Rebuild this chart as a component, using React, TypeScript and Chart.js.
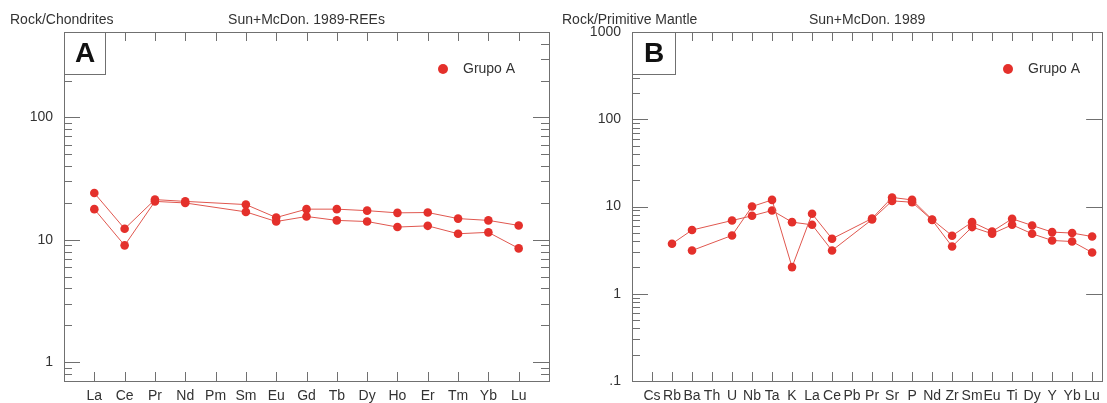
import React, { useEffect, useRef } from "react";
import { Chart, registerables } from "chart.js";

Chart.register(...registerables);

// ---------- Data ----------
const REE_LABELS = ["La", "Ce", "Pr", "Nd", "Pm", "Sm", "Eu", "Gd", "Tb", "Dy", "Ho", "Er", "Tm", "Yb", "Lu"];
const REE_SAMPLE_1 = [24.1, 12.3, 21.3, 20.6, null, 19.4, 15.2, 17.8, 17.8, 17.3, 16.6, 16.7, 14.9, 14.4, 13.1];
const REE_SAMPLE_2 = [17.8, 9.0, 20.6, 20.0, null, 16.9, 14.1, 15.5, 14.4, 14.1, 12.7, 13.0, 11.2, 11.5, 8.5];
const REE_Y_TICKS = [1, 10, 100];

const SPIDER_LABELS = ["Cs", "Rb", "Ba", "Th", "U", "Nb", "Ta", "K", "La", "Ce", "Pb", "Pr", "Sr", "P", "Nd", "Zr", "Sm", "Eu", "Ti", "Dy", "Y", "Yb", "Lu"];
const SPIDER_SAMPLE_1 = [null, null, 3.13, null, 4.66, 10.0, 11.9, 2.02, 8.25, 4.27, null, 7.3, 12.7, 11.9, 7.1, 4.62, 6.62, 5.17, 7.23, 6.06, 5.09, 4.96, 4.53];
const SPIDER_SAMPLE_2 = [null, 3.74, 5.37, null, 6.91, 7.82, 9.0, 6.62, 6.17, 3.13, null, 7.1, 11.6, 11.2, 7.0, 3.48, 5.81, 4.87, 6.17, 4.87, 4.08, 3.97, 2.97];
const SPIDER_Y_TICKS = [0.1, 1, 10, 100, 1000];

const LEGEND_LABEL = "Grupo A";

// ---------- Styles ----------
const FONT = "'Liberation Sans', Arial, sans-serif";
const TEXT_COLOR = "#333333";
const AXIS_COLOR = "#707070";
const LINE_COLOR = "#e0574f";
const POINT_COLOR = "#e4302b";

type PanelCfg = {
  letter: string;
  leftTitle: string;
  centerTitle: string;
  labels: string[];
  series: (number | null)[][];
  yTicks: number[];
  yMin: number;
  yMax: number;
  xMax: number;
  rightMinor: boolean;
  canvasWidth: number;
  yAxisWidth: number;
  padRight: number;
  leftTitleX: number;
  boxW: number;
  legendDotX: number;
};

const PANEL_A: PanelCfg = {
  letter: "A",
  leftTitle: "Rock/Chondrites",
  centerTitle: "Sun+McDon. 1989-REEs",
  labels: REE_LABELS,
  series: [REE_SAMPLE_1, REE_SAMPLE_2],
  yTicks: REE_Y_TICKS,
  yMin: 0.7,
  yMax: 500,
  xMax: 16,
  rightMinor: true,
  canvasWidth: 560,
  yAxisWidth: 64,
  padRight: 11,
  leftTitleX: 10,
  boxW: 41,
  legendDotX: 443,
};

const PANEL_B: PanelCfg = {
  letter: "B",
  leftTitle: "Rock/Primitive Mantle",
  centerTitle: "Sun+McDon. 1989",
  labels: SPIDER_LABELS,
  series: [SPIDER_SAMPLE_1, SPIDER_SAMPLE_2],
  yTicks: SPIDER_Y_TICKS,
  yMin: 0.1,
  yMax: 1000,
  xMax: 23.5,
  rightMinor: false,
  canvasWidth: 547,
  yAxisWidth: 72,
  padRight: 2,
  leftTitleX: 2,
  boxW: 43,
  legendDotX: 448,
};

const CANVAS_H = 403;
const TOP = 32;
const X_AXIS_H = 22;

function makeFramePlugin(cfg: PanelCfg) {
  return {
    id: "frame" + cfg.letter,
    afterDraw(chart: any) {
      const { ctx, chartArea: ca, scales } = chart;
      const xs = scales.x;
      const ys = scales.y;
      ctx.save();
      ctx.strokeStyle = AXIS_COLOR;
      ctx.lineWidth = 1;
      ctx.beginPath();
      // x ticks (top & bottom, inward)
      for (let i = 0; i < cfg.labels.length; i++) {
        const px = Math.round(xs.getPixelForValue(i + 1)) + 0.5;
        ctx.moveTo(px, ca.top);
        ctx.lineTo(px, ca.top + 9);
        ctx.moveTo(px, ca.bottom);
        ctx.lineTo(px, ca.bottom - 9);
      }
      // y ticks (left & right, inward)
      const e0 = Math.floor(Math.log10(cfg.yMin));
      const e1 = Math.ceil(Math.log10(cfg.yMax));
      for (let e = e0; e <= e1; e++) {
        for (let m = 1; m <= 9; m++) {
          const v = m * Math.pow(10, e);
          if (v < cfg.yMin * 0.999 || v > cfg.yMax * 1.001) continue;
          const py = Math.round(ys.getPixelForValue(v)) + 0.5;
          const len = m === 1 ? 16 : 8;
          ctx.moveTo(ca.left, py);
          ctx.lineTo(ca.left + len, py);
          if (m === 1 || cfg.rightMinor) {
            ctx.moveTo(ca.right, py);
            ctx.lineTo(ca.right - len, py);
          }
        }
      }
      ctx.stroke();
      // frame
      const L = Math.round(ca.left) + 0.5;
      const T = Math.round(ca.top) + 0.5;
      ctx.strokeRect(L, T, Math.round(ca.right - ca.left), Math.round(ca.bottom - ca.top));
      // letter box
      ctx.fillStyle = "#ffffff";
      ctx.fillRect(L, T, cfg.boxW, 42);
      ctx.strokeRect(L, T, cfg.boxW, 42);
      ctx.fillStyle = "#111111";
      ctx.font = "bold 28px " + FONT;
      ctx.textAlign = "center";
      ctx.textBaseline = "middle";
      ctx.fillText(cfg.letter, L + cfg.boxW / 2, T + 22);
      // legend
      ctx.fillStyle = POINT_COLOR;
      ctx.beginPath();
      ctx.arc(cfg.legendDotX, 69, 5, 0, Math.PI * 2);
      ctx.fill();
      ctx.fillStyle = TEXT_COLOR;
      ctx.font = "14px " + FONT;
      ctx.textAlign = "left";
      ctx.fillText(LEGEND_LABEL, cfg.legendDotX + 20, 69);
      // titles
      ctx.fillText(cfg.leftTitle, cfg.leftTitleX, 20);
      ctx.textAlign = "center";
      ctx.fillText(cfg.centerTitle, (ca.left + ca.right) / 2, 20);
      ctx.restore();
    },
  };
}

function Panel({ cfg, left }: { cfg: PanelCfg; left: number }) {
  const ref = useRef<HTMLCanvasElement | null>(null);
  useEffect(() => {
    if (!ref.current) return;
    const datasets = cfg.series.map((s) => ({
      label: LEGEND_LABEL,
      data: s.map((v, i) => ({ x: i + 1, y: v })),
      borderColor: LINE_COLOR,
      borderWidth: 1,
      backgroundColor: POINT_COLOR,
      pointBackgroundColor: POINT_COLOR,
      pointBorderWidth: 0,
      pointRadius: 4.3,
      spanGaps: true,
      tension: 0,
    }));
    const chart = new Chart(ref.current, {
      type: "line",
      data: { datasets: datasets as any },
      options: {
        animation: false,
        responsive: false,
        layout: { padding: { left: 0, right: cfg.padRight, top: TOP, bottom: 0 } },
        plugins: { legend: { display: false }, tooltip: { enabled: false }, title: { display: false } },
        scales: {
          x: {
            type: "linear",
            min: 0,
            max: cfg.xMax,
            grid: { display: false, drawTicks: false },
            border: { display: false },
            afterBuildTicks: (s: any) => {
              s.ticks = cfg.labels.map((_, i) => ({ value: i + 1 }));
            },
            afterFit: (s: any) => {
              s.height = X_AXIS_H;
            },
            ticks: {
              autoSkip: false,
              maxRotation: 0,
              minRotation: 0,
              padding: 7,
              color: TEXT_COLOR,
              font: { family: FONT, size: 14 },
              callback: (v: any) => cfg.labels[Math.round(Number(v)) - 1] ?? "",
            },
          },
          y: {
            type: "logarithmic",
            min: cfg.yMin,
            max: cfg.yMax,
            grid: { display: false, drawTicks: false },
            border: { display: false },
            afterBuildTicks: (s: any) => {
              s.ticks = cfg.yTicks.map((v) => ({ value: v }));
            },
            afterFit: (s: any) => {
              s.width = cfg.yAxisWidth;
            },
            ticks: {
              padding: 11,
              color: TEXT_COLOR,
              font: { family: FONT, size: 14 },
              callback: (v: any) => (Number(v) < 1 ? String(v).replace(/^0/, "") : String(v)),
            },
          },
        },
      },
      plugins: [makeFramePlugin(cfg)],
    });
    return () => chart.destroy();
  }, [cfg]);
  return (
    <canvas
      ref={ref}
      width={cfg.canvasWidth}
      height={CANVAS_H}
      style={{ position: "absolute", left, top: 0, width: cfg.canvasWidth, height: CANVAS_H }}
    />
  );
}

export default function App() {
  return (
    <div style={{ position: "absolute", left: 0, top: 0, width: 1107, height: CANVAS_H, background: "#ffffff", overflow: "hidden" }}>
      <Panel cfg={PANEL_A} left={0} />
      <Panel cfg={PANEL_B} left={560} />
    </div>
  );
}
